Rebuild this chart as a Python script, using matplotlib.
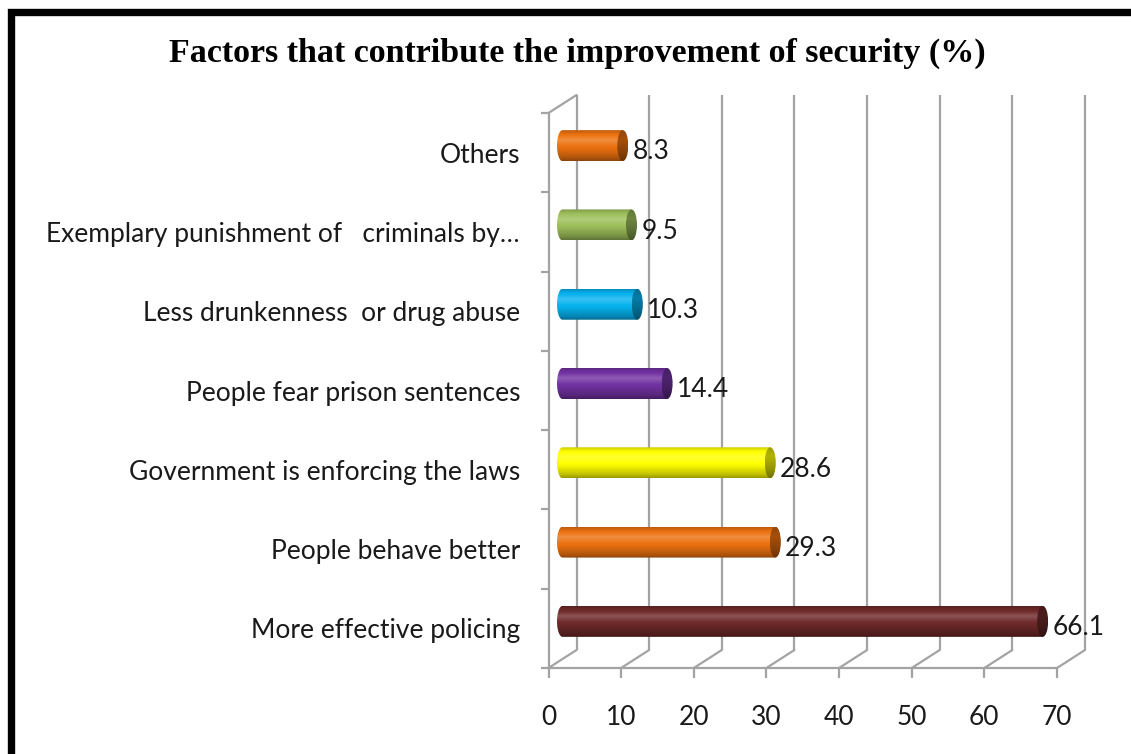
import numpy as np
import matplotlib
matplotlib.use("Agg")
import matplotlib.pyplot as plt
from matplotlib.transforms import ScaledTranslation
from matplotlib.patches import PathPatch, Ellipse, ConnectionPatch, Rectangle
from matplotlib.path import Path
from matplotlib.colors import to_rgb

# ---- data ----
title = "Factors that contribute the improvement of security (%)"
categories = [
    "More effective policing",
    "People behave better",
    "Government is enforcing the laws",
    "People fear prison sentences",
    "Less drunkenness  or drug abuse",
    "Exemplary punishment of   criminals by\u2026",
    "Others",
]
values = [66.1, 29.3, 28.6, 14.4, 10.3, 9.5, 8.3]
bar_colors = ["#6E2929", "#EC7210", "#FFFF00", "#7232A2", "#06B2EE", "#9DBF5A", "#EC7210"]
x_ticks = [0, 10, 20, 30, 40, 50, 60, 70]

# ---- style ----
W, H, DPI = 1131, 754, 100
GRID = "#a3a3a3"
LW = 1.6
FONT = "Lato"
FS = 19
DEPTH = (28, 18)          # depth offset of the back wall, pixels
BAR_SHIFT = (14, 7)       # offset of the cylinders from the front plane, pixels
CAP_PX = 5.5              # half width of the cylinder end caps, pixels
BAR_PX = 15.5             # half height of a cylinder, pixels

fig = plt.figure(figsize=(W / DPI, H / DPI), dpi=DPI)
fig.patch.set_facecolor("white")
ax = fig.add_axes([548.5 / W, 86 / H, 508.5 / W, 555 / H])
ax.patch.set_visible(False)

xlo, xhi = x_ticks[0], x_ticks[-1]
ylo, yhi = -0.5, len(categories) - 0.5

back = ax.transData + ScaledTranslation(DEPTH[0] / DPI, DEPTH[1] / DPI, fig.dpi_scale_trans)
mid = ax.transData + ScaledTranslation(BAR_SHIFT[0] / DPI, BAR_SHIFT[1] / DPI,
                                       fig.dpi_scale_trans)

# back wall gridlines
for v in x_ticks:
    ax.plot([v, v], [ylo, yhi], transform=back, color=GRID, lw=LW, clip_on=False,
            solid_capstyle="butt", zorder=1)

# floor diagonals and top edge of the side wall
def depth_edge(x, y):
    con = ConnectionPatch((x, y), (x, y), coordsA=ax.transData, coordsB=back,
                          color=GRID, lw=LW, zorder=1)
    con.set_clip_on(False)
    ax.add_artist(con)

for v in x_ticks:
    depth_edge(v, ylo)
depth_edge(xlo, yhi)

# axis spines and ticks
for s in ("top", "right"):
    ax.spines[s].set_visible(False)
for s in ("left", "bottom"):
    ax.spines[s].set_color(GRID)
    ax.spines[s].set_linewidth(LW)

ax.set_xticks(x_ticks)
ax.set_xticklabels([str(t) for t in x_ticks])
ax.tick_params(axis="x", length=7.5, width=LW, color=GRID, pad=19, labelsize=FS,
               labelcolor="#1a1a1a")

ax.set_yticks(np.arange(ylo, yhi + 0.01, 1.0))
ax.set_yticklabels([])
ax.tick_params(axis="y", which="major", length=5.5, width=LW, color=GRID)
ax.set_yticks(np.arange(len(categories)), minor=True)
ax.set_yticklabels(categories, minor=True)
ax.tick_params(axis="y", which="minor", length=0, pad=20.5, labelsize=FS,
               labelcolor="#1a1a1a")
for lab in ax.get_xticklabels() + ax.get_yticklabels(minor=True):
    lab.set_fontfamily(FONT)


def shaded(color, n=64, profile=None):
    """Vertical shading column (bottom to top) for a cylinder."""
    c = np.array(to_rgb(color))
    if profile is None:
        profile = ([0.0, 0.12, 0.4, 0.68, 0.88, 1.0],
                   [0.6, 0.76, 0.97, 1.1, 0.98, 0.8])
    t = np.linspace(0, 1, n)
    k = np.interp(t, *profile)
    rows = []
    for kk in k:
        if kk <= 1:
            rows.append(c * kk)
        else:
            rows.append(c + (1 - c) * (kk - 1) * 2.0)
    return np.clip(np.array(rows), 0, 1)[:, None, :]


# cylinder geometry in data units
px_x = 508.5 / (xhi - xlo)
px_y = 555 / (yhi - ylo)
a = CAP_PX / px_x
b = BAR_PX / px_y

theta = np.linspace(np.pi / 2, 3 * np.pi / 2, 48)
for i, (v, col) in enumerate(zip(values, bar_colors)):
    yc = i
    xs = np.concatenate([a * np.cos(theta), [v, v]])
    ys = np.concatenate([yc + b * np.sin(theta), [yc - b, yc + b]])
    verts = np.column_stack([xs, ys])
    verts = np.vstack([verts, verts[:1]])
    codes = [Path.MOVETO] + [Path.LINETO] * (len(verts) - 2) + [Path.CLOSEPOLY]
    body = PathPatch(Path(verts, codes), transform=mid, facecolor="none",
                     edgecolor="none", zorder=3)
    ax.add_patch(body)
    im = ax.imshow(shaded(col), extent=[-a, v, yc - b, yc + b], origin="lower",
                   aspect="auto", transform=mid, interpolation="bilinear", zorder=3)
    im.set_clip_path(body)

    cap = Ellipse((v, yc), 2 * a, 2 * b, transform=mid, facecolor="none",
                  edgecolor="none", zorder=4)
    ax.add_patch(cap)
    cap_prof = ([0.0, 0.3, 0.7, 1.0], [0.45, 0.58, 0.7, 0.62])
    im2 = ax.imshow(shaded(col, profile=cap_prof), extent=[v - a, v + a, yc - b, yc + b],
                    origin="lower", aspect="auto", transform=mid,
                    interpolation="bilinear", zorder=4)
    im2.set_clip_path(cap)

    ax.annotate(f"{v:.1f}", xy=(v, yc), xycoords=mid,
                xytext=(CAP_PX * 0.72 + 3, -4.5), textcoords="offset points",
                ha="left", va="center", fontsize=FS, fontfamily=FONT, color="#1a1a1a",
                zorder=5)

ax.set_xlim(xlo, xhi)
ax.set_ylim(ylo, yhi)

# title
fig.text(577 / W, 1 - 53 / H, title, ha="center", va="center",
         fontfamily="Liberation Serif", fontweight="bold", fontsize=24.5, color="black")

# heavy frame around the chart area
frame = Rectangle((10.5 / W, -0.2), 1.3, 1.2 - 12 / H, transform=fig.transFigure,
                  fill=False, edgecolor="black", lw=5.3, clip_on=False)
fig.patches.append(frame)

fig.savefig("out.png", dpi=DPI)
